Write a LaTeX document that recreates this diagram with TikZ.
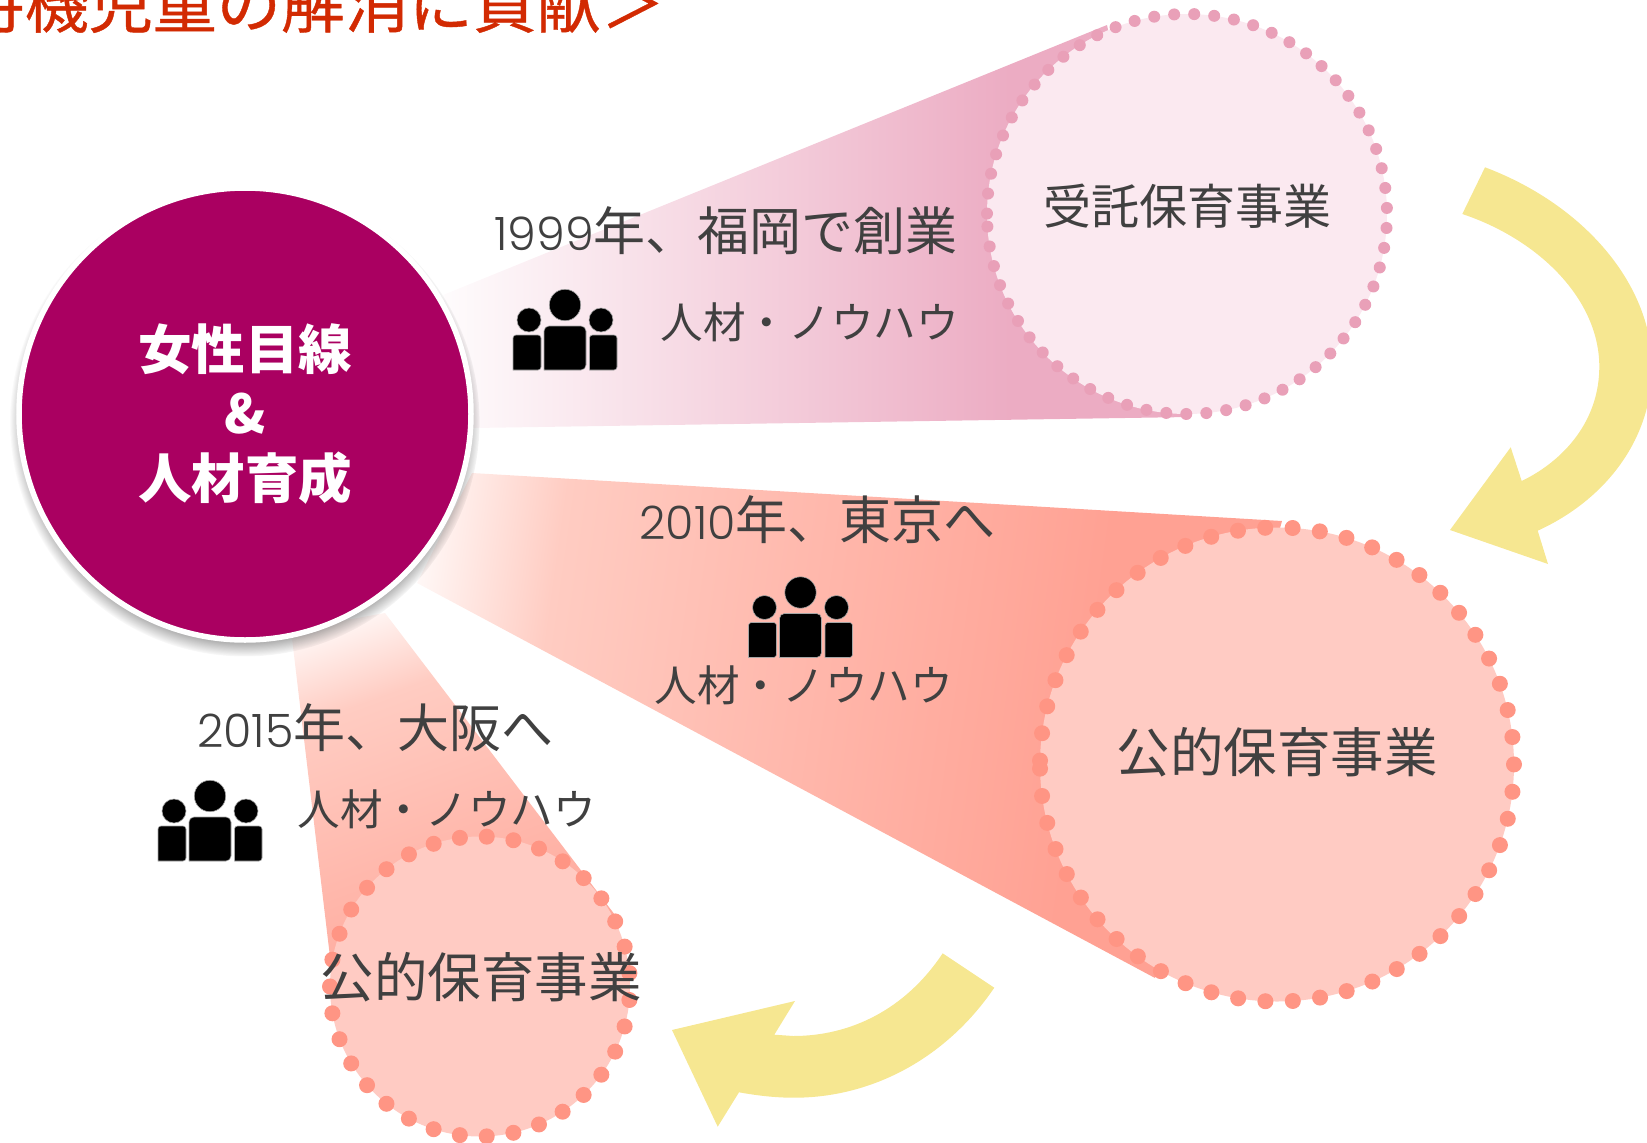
\documentclass[tikz,border=0pt]{standalone}
\usepackage{fontspec}
\setmainfont{Noto Sans CJK JP}
\newfontfamily\digitfont{Poppins}[UprightFont=* Light]
\usetikzlibrary{positioning,shadows}
\definecolor{coremagenta}{HTML}{AA0061}
\definecolor{titlered}{HTML}{D22A02}
\definecolor{textgrey}{HTML}{404040}
\definecolor{arrowyellow}{HTML}{F6E791}
\definecolor{pinkdot}{HTML}{E9A0B8}
\definecolor{pinkbeam}{HTML}{ECACC3}
\definecolor{pinkfill}{HTML}{FBE9F0}
\definecolor{salmondot}{HTML}{FF9584}
\definecolor{salmonbeam}{HTML}{FFA193}
\definecolor{salmonmid}{HTML}{FFCCC2}
\definecolor{salmonfill}{HTML}{FFCBC3}
\pgfdeclarehorizontalshading{beamsalmon}{100bp}{color(0bp)=(white); color(25bp)=(white);
  color(34bp)=(salmonmid); color(65bp)=(salmonbeam); color(100bp)=(salmonbeam)}
\tikzset{
  corecircle/.style={circle, draw=white, line width=5.5pt, fill=coremagenta, text=white,
    minimum size=452pt, inner sep=0pt, outer sep=0pt, align=center,
    font=\fontsize{53.5}{64.5}\selectfont\bfseries,
    circular drop shadow={shadow xshift=0pt, shadow yshift=-7pt, shadow scale=1.04, opacity=.75, fill=black}},
  bizcircle/.style={circle, inner sep=0pt, outer sep=0pt, text=textgrey},
  dotring/.style={line cap=round, line width=#1},
  yeartext/.style={text=textgrey, inner sep=0pt, font=\fontsize{52}{60}\selectfont},
  knowhow/.style={text=textgrey, inner sep=0pt, font=\fontsize{42.6}{50}\selectfont},
  people/.pic={
    \fill[black, draw=gray!70, line width=.6pt] (-21,0) {[rounded corners=5pt] -- (-21,-44) -- (21,-44) -- (21,0)} -- cycle;
    \fill[black, draw=gray!70, line width=.6pt] (-52,0) {[rounded corners=3pt] -- (-52,-35) -- (-24,-35) -- (-24,0)} -- cycle;
    \fill[black, draw=gray!70, line width=.6pt] (24.5,0) {[rounded corners=3pt] -- (24.5,-35) -- (52,-35) -- (52,0)} -- cycle;
    \fill[black, draw=gray!70, line width=.6pt] (0,-65) circle (15.7);
    \fill[black, draw=gray!70, line width=.6pt] (-36,-50) circle (12);
    \fill[black, draw=gray!70, line width=.6pt] (36,-50) circle (12);
  }
}
\newcommand{\yeardigits}[1]{{\fontsize{46}{60}\digitfont #1}}
\begin{document}
\begin{tikzpicture}[x=1pt, y=-1pt]
  \useasboundingbox (0,0) rectangle (1647,1143);
  % beams
  \begin{scope}
    \clip (443,295) -- (1107,25) -- (1190,417) -- (473,428) -- cycle;
    \shade[left color=white, right color=pinkbeam, middle color=pinkbeam] (420,0) rectangle (1600,450);
  \end{scope}
  \begin{scope}
    \clip (472,473) -- (1282,521) -- (1155,978) -- (417,583) -- cycle;
    \shade[shading=beamsalmon, transform canvas={rotate around={-8:(400,540)}}] (400,0) rectangle (1280,1100);
  \end{scope}
  \begin{scope}
    \clip (291,630) -- (385,613) -- (615,915) -- (330,957) -- cycle;
    \shade[shading=beamsalmon, transform canvas={rotate around={-70:(325,610)}}] (325,210) rectangle (885,1010);
  \end{scope}
  % target circles
  \node[bizcircle, fill=pinkfill, minimum size=400pt] (jutaku) at (1187,214) {};
  \draw[dotring=12pt, pinkdot, dash pattern=on 0pt off 20.06pt]
    (jutaku.center) ++(176.4:200) arc[start angle=176.4, delta angle=-360, radius=200];
  \node[bizcircle, fill=salmonfill, minimum size=474pt] (koteki) at (1277,764.5) {};
  \draw[dotring=16pt, salmondot, dash pattern=on 0pt off 27.43pt]
    (koteki.center) ++(179:237) arc[start angle=179, delta angle=-360, radius=237];
  \node[bizcircle, fill=salmonfill, minimum size=300pt] (osaka) at (480,986.5) {};
  \draw[dotring=16pt, salmondot, dash pattern=on 0pt off 26.93pt]
    (osaka.center) ++(180:150) arc[start angle=180, delta angle=-360, radius=150];
  \node[text=textgrey, inner sep=0pt, font=\fontsize{48}{58}\selectfont] (jutakutext) at (1187,206) {受託保育事業};
  \node[text=textgrey, inner sep=0pt, font=\fontsize{53.5}{60}\selectfont] (kotekitext) at (1277,752) {公的保育事業};
  \node[text=textgrey, inner sep=0pt, font=\fontsize{53.5}{60}\selectfont] (osakatext) at (481,977) {公的保育事業};
  % core
  \node[corecircle] (core) at (245,414) {女性目線\\\&\\人材育成};
  % arrows
  \fill[arrowyellow] (1485,167.3) .. controls (1585,205) and (1652,285) .. (1652,367)
    .. controls (1652,440) and (1605,500) .. (1537.7,530.7) -- (1548,564) -- (1450,530)
    -- (1510.7,447.3) -- (1521.7,481) .. controls (1565,460) and (1599.3,420) .. (1599.3,366.7)
    .. controls (1599.3,300) and (1540,240) .. (1462.3,214) -- cycle;
  \fill[arrowyellow] (942.7,953.3) .. controls (905,1010) and (850,1036) .. (793.3,1036)
    -- (774.3,1034.7) -- (795,1001) -- (672,1030) -- (717.7,1126.7) -- (739,1092.3)
    .. controls (757,1095.5) and (775,1097.7) .. (793.3,1097.7)
    .. controls (870,1098) and (945,1060) .. (994.3,987.7) -- cycle;
  % labels
  \node[yeartext, anchor=east] (founded) at (958,231) {\yeardigits{1999}年、福岡で創業};
  \pic at (565,370) {people};
  \node[knowhow, anchor=east] (skillsa) at (959,322) {人材・ノウハウ};
  \node[yeartext, anchor=east] (tokyo) at (996,520) {\yeardigits{2010}年、東京へ};
  \pic at (800.5,657.5) {people};
  \node[knowhow, anchor=east] (skillsb) at (953,685) {人材・ノウハウ};
  \node[yeartext, anchor=east] (osakayear) at (554,728) {\yeardigits{2015}年、大阪へ};
  \pic at (210,861) {people};
  \node[knowhow, anchor=east] (skillsc) at (596,809) {人材・ノウハウ};
  % title
  \node[text=titlered, inner sep=0pt, anchor=base east, font=\fontsize{64}{70}\selectfont\addfontfeature{FakeBold=0.6}] (slogan) at (665,27.5) {待機児童の解消に貢献＞};
\end{tikzpicture}
\end{document}
